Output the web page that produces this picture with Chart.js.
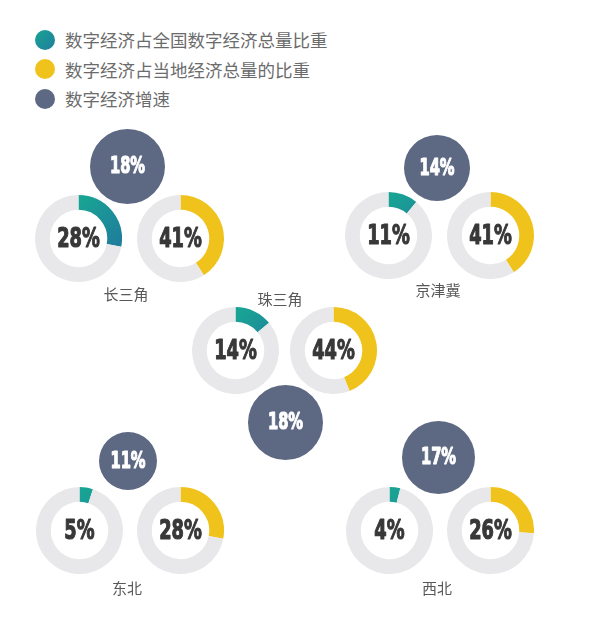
<!DOCTYPE html>
<html>
<head>
<meta charset="utf-8">
<script src="https://cdn.jsdelivr.net/npm/chart.js@4/dist/chart.umd.min.js"></script>
<style>
  html, body { margin: 0; padding: 0; background: #fff; }
  #page { position: relative; width: 599px; height: 630px; background: #fff; overflow: hidden; }
  .legend { position: absolute; left: 35px; font: 17.5px "Noto Sans CJK SC", sans-serif; color: #6b6b6b; display: flex; align-items: center; }
  .legend i { display: inline-block; width: 20px; height: 20px; border-radius: 50%; margin-right: 10px; }
  .region { position: absolute; font: 15px "Noto Sans CJK SC", sans-serif; color: #585858; transform: translate(-50%, -50%); white-space: nowrap; }
  canvas { position: absolute; }
</style>
</head>
<body>
<div id="page"></div>
<script>
// --- data ---
const regions = ['长三角', '京津冀', '珠三角', '东北', '西北'];
const nationalShare = [28, 11, 14, 5, 4];   // 数字经济占全国数字经济总量比重
const localShare = [41, 41, 44, 28, 26];    // 数字经济占当地经济总量的比重
const growthRate = [18, 14, 18, 11, 17];    // 数字经济增速
const legendLabels = ['数字经济占全国数字经济总量比重', '数字经济占当地经济总量的比重', '数字经济增速'];

// --- look ---
const GRAY = '#e8e8ea';
const YELLOW = '#f0c31c';
const SLATE = '#5d6883';
const TEXT = '#383838';

// where each group sits on the page (left ring, right ring, growth circle, label)
const layout = [
    { lx: 78,  rx: 180, ry: 238, gx: 127, gy: 166, tx: 126, ty: 293 },
    { lx: 388, rx: 490, ry: 235, gx: 437, gy: 168, tx: 438, ty: 289 },
    { lx: 235, rx: 333, ry: 350, gx: 285, gy: 422, tx: 280, ty: 298 },
    { lx: 79,  rx: 180, ry: 530, gx: 128, gy: 461, tx: 127, ty: 587 },
    { lx: 389, rx: 490, ry: 530, gx: 438, gy: 457, tx: 437, ty: 587 }
];

const page = document.getElementById('page');

function tealFill(ctx) {
    const a = ctx.chart.chartArea;
    if (!a) return '#1a9590';
    const g = ctx.chart.ctx.createLinearGradient(a.left, a.top, a.right, a.bottom);
    g.addColorStop(0.3, '#19a394');
    g.addColorStop(0.75, '#1f7e9c');
    return g;
}

// draws the percentage in the middle of a chart, squeezed to look condensed
function centerText(text, font, color, squeeze) {
    return {
        id: 'centerText',
        afterDraw(chart) {
            const { ctx, chartArea: a } = chart;
            ctx.save();
            ctx.translate((a.left + a.right) / 2, (a.top + a.bottom) / 2 + 1);
            ctx.scale(squeeze, 1);
            ctx.font = font;
            ctx.fillStyle = color;
            ctx.strokeStyle = color;
            ctx.lineWidth = 1.2;
            ctx.lineJoin = 'round';
            ctx.textAlign = 'center';
            ctx.textBaseline = 'middle';
            ctx.fillText(text, 0, 0);
            ctx.strokeText(text, 0, 0);   // a little extra weight
            ctx.restore();
        }
    };
}

function addCanvas(cx, cy, size) {
    const c = document.createElement('canvas');
    c.width = size;
    c.height = size;
    c.style.left = (cx - size / 2) + 'px';
    c.style.top = (cy - size / 2) + 'px';
    page.appendChild(c);
    return c;
}

const baseOptions = {
    responsive: false,
    animation: false,
    events: [],
    layout: { padding: 0 },
    plugins: { legend: { display: false }, tooltip: { enabled: false } }
};

function ringChart(cx, cy, value, color) {
    new Chart(addCanvas(cx, cy, 87), {
        type: 'doughnut',
        data: {
            labels: ['share', 'rest'],
            datasets: [{
                data: [value, 100 - value],
                backgroundColor: c => c.dataIndex === 0 ? (typeof color === 'function' ? color(c) : color) : GRAY,
                borderWidth: 0
            }]
        },
        options: { ...baseOptions, cutout: '66%' },
        plugins: [centerText(value + '%', 'bold 27px "DejaVu Sans"', TEXT, 0.66)]
    });
}

function growthChart(cx, cy, value) {
    // circle area follows the growth rate
    const size = Math.round(17.6 * Math.sqrt(value));
    new Chart(addCanvas(cx, cy, size), {
        type: 'pie',
        data: {
            labels: ['growth'],
            datasets: [{ data: [value], backgroundColor: SLATE, borderWidth: 0 }]
        },
        options: baseOptions,
        plugins: [centerText(value + '%', 'bold 23px "DejaVu Sans"', '#ffffff', 0.64)]
    });
}

// legend
const legendColors = ['linear-gradient(135deg,#19a394,#1f7e9c)', YELLOW, SLATE];
legendLabels.forEach((label, i) => {
    const row = document.createElement('div');
    row.className = 'legend';
    row.style.top = (27 + i * 29.5) + 'px';
    row.innerHTML = `<i style="background:${legendColors[i]}"></i>${label}`;
    page.appendChild(row);
});

// region groups
regions.forEach((name, i) => {
    const p = layout[i];
    ringChart(p.lx, p.ry, nationalShare[i], tealFill);
    ringChart(p.rx, p.ry, localShare[i], YELLOW);
    growthChart(p.gx, p.gy, growthRate[i]);
    const label = document.createElement('div');
    label.className = 'region';
    label.style.left = p.tx + 'px';
    label.style.top = p.ty + 'px';
    label.textContent = name;
    page.appendChild(label);
});
</script>
</body>
</html>
